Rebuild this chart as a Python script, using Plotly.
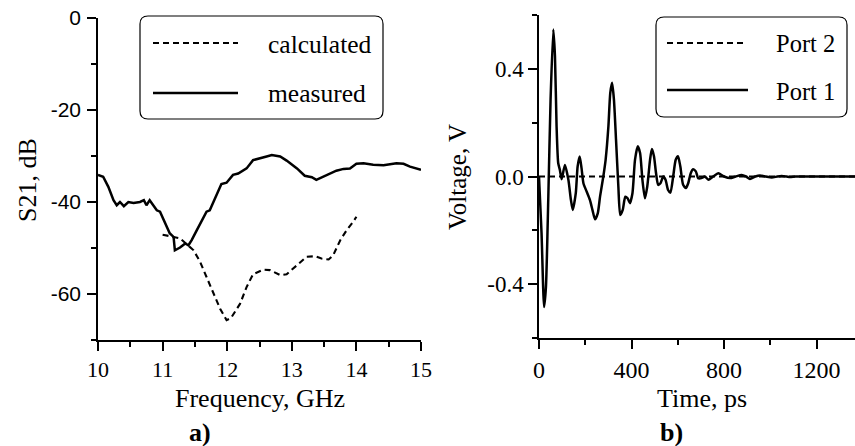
import plotly.graph_objects as go

# ---------------- data ----------------
meas_f = [10.0, 10.08, 10.16, 10.24, 10.29, 10.34, 10.40, 10.47, 10.55, 10.65, 10.71, 10.75, 10.80,
          10.91, 10.96, 11.06, 11.11, 11.17, 11.19, 11.27, 11.35, 11.40, 11.45, 11.53, 11.60, 11.68,
          11.73, 11.84, 11.91, 11.99, 12.09, 12.17, 12.30, 12.40, 12.51, 12.61, 12.69, 12.82, 12.92,
          13.08, 13.20, 13.31, 13.38, 13.46, 13.57, 13.69, 13.80, 13.90, 14.00, 14.11, 14.26, 14.42,
          14.52, 14.62, 14.73, 14.83, 15.0]
meas_db = [-34.1, -34.5, -36.7, -39.6, -40.7, -40.0, -40.9, -40.0, -40.2, -40.0, -39.6, -40.7, -39.6,
           -41.8, -42.1, -45.4, -46.8, -47.6, -50.5, -49.9, -49.0, -49.4, -48.3, -46.1, -44.3, -42.1,
           -41.8, -38.5, -36.1, -35.8, -34.1, -33.8, -32.7, -30.9, -30.4, -30.1, -29.8, -30.1, -31.0,
           -32.7, -34.3, -34.6, -35.2, -34.7, -34.1, -33.2, -32.8, -32.7, -31.7, -31.6, -31.9, -32.0,
           -31.8, -31.6, -31.7, -32.3, -33.0]

calc_f = [11.0, 11.27, 11.48, 11.58, 11.68, 11.79, 11.89, 11.99, 12.06, 12.20, 12.30, 12.40, 12.56,
          12.66, 12.82, 12.92, 13.02, 13.13, 13.23, 13.36, 13.46, 13.57, 13.64, 13.75, 13.85, 13.95, 14.0]
calc_db = [-47.1, -47.9, -50.5, -53.0, -56.3, -59.9, -63.2, -65.7, -65.2, -62.1, -58.5, -55.7, -54.7,
           -54.8, -55.9, -55.7, -54.5, -53.0, -51.9, -51.8, -52.3, -52.5, -51.6, -48.3, -46.1, -44.3, -43.2]

port1_t = [0, 11, 22, 30, 40, 50, 62, 69, 76, 83, 90, 98, 112, 127, 138, 146, 159, 167, 176, 184,
           192, 206, 220, 231, 242, 254, 264, 278, 288, 300, 308, 316, 324, 333, 343, 351, 362, 373,
           383, 393, 404, 415, 427, 437, 447, 458, 468, 480, 488, 497, 506, 515, 525, 537, 547, 558,
           568, 580, 591, 601, 611, 623, 635, 645, 656, 666, 678, 688, 702, 717, 732, 753, 775, 800,
           826, 850, 876, 895, 912, 935, 955, 980, 1006, 1030, 1049, 1070, 1085, 1110, 1200, 1300, 1366]
port1_v = [0.0, -0.21, -0.485, -0.41, -0.087, 0.285, 0.546, 0.447, 0.186, 0.05, 0.025, -0.01, 0.043,
           -0.012, -0.087, -0.124, -0.062, 0.037, 0.074, 0.03, -0.025, -0.056, -0.087, -0.124, -0.159,
           -0.137, -0.074, 0.0, 0.062, 0.186, 0.31, 0.348, 0.285, 0.136, -0.037, -0.143, -0.124, -0.075,
           -0.081, -0.099, -0.062, 0.062, 0.112, 0.087, -0.012, -0.081, -0.037, 0.062, 0.102, 0.075,
           0.012, -0.031, -0.025, 0.0, -0.012, -0.05, -0.06, 0.0, 0.062, 0.075, 0.037, -0.031, -0.043,
           -0.025, 0.012, 0.027, 0.019, -0.006, -0.006, 0.0, -0.012, 0.0, 0.012, 0.0, -0.006, 0.0,
           0.006, 0.0, -0.009, 0.0, 0.004, 0.0, -0.004, 0.0, 0.002, 0.0, -0.002, 0.0, 0.0, 0.0, 0.0]

port2_t = [0, 200, 400, 600, 800, 1000, 1200, 1366]
port2_v = [0.0, 0.0, 0.0, 0.0, 0.0, 0.0, 0.0, 0.0]

freq_ticks = [10, 11, 12, 13, 14, 15]
freq_minor = [10.5, 11.5, 12.5, 13.5, 14.5]
db_ticks = [0, -20, -40, -60]
db_labels = ["0", "-20", "-40", "-60"]
db_minor = [-10, -30, -50, -70]
time_ticks = [0, 400, 800, 1200]
time_minor = [200, 600, 1000]
volt_ticks = [0.4, 0.0, -0.4]
volt_labels = ["0.4", "0.0", "-0.4"]
volt_minor = [0.6, 0.2, -0.2, -0.6]

# ---------------- helpers ----------------
W, H = 855, 446
SERIF = "Liberation Serif"


def px(x):
    return x / W


def py(y):
    return 1 - y / H


def rounded_rect(x0, y0, x1, y1, r):
    X0, X1 = px(x0), px(x1)
    Y0, Y1 = py(y0), py(y1)
    rx, ry = r / W, r / H
    return (f"M {X0+rx},{Y0} L {X1-rx},{Y0} Q {X1},{Y0} {X1},{Y0-ry} "
            f"L {X1},{Y1+ry} Q {X1},{Y1} {X1-rx},{Y1} L {X0+rx},{Y1} "
            f"Q {X0},{Y1} {X0},{Y1+ry} L {X0},{Y0-ry} Q {X0},{Y0} {X0+rx},{Y0} Z")


DASH = "6px,4px"
SOLID_W = 2.5
DASH_W = 2.1

fig = go.Figure()
fig.add_trace(go.Scatter(x=calc_f, y=calc_db, mode="lines", name="calculated",
                         line=dict(color="black", width=DASH_W, dash=DASH), xaxis="x", yaxis="y"))
fig.add_trace(go.Scatter(x=meas_f, y=meas_db, mode="lines", name="measured",
                         line=dict(color="black", width=SOLID_W), xaxis="x", yaxis="y"))
fig.add_trace(go.Scatter(x=port1_t, y=port1_v, mode="lines", name="Port 1",
                         line=dict(color="black", width=SOLID_W, shape="spline", smoothing=0.6),
                         xaxis="x2", yaxis="y2"))
fig.add_trace(go.Scatter(x=port2_t, y=port2_v, mode="lines", name="Port 2",
                         line=dict(color="black", width=DASH_W, dash=DASH), xaxis="x2", yaxis="y2"))

axis_common = dict(showline=True, linecolor="black", linewidth=1.5, showgrid=False, zeroline=False,
                   ticks="outside", ticklen=9, tickwidth=1.5, tickcolor="black", fixedrange=True,
                   automargin=False)
minor_common = dict(ticks="outside", ticklen=5, tickwidth=1.5, tickcolor="black", showgrid=False)

fig.update_layout(
    width=W, height=H, margin=dict(l=0, r=0, t=0, b=0, autoexpand=False),
    paper_bgcolor="white", plot_bgcolor="white", showlegend=False,
    xaxis=dict(domain=[px(98), px(421)], range=[10, 15], anchor="y",
               tickmode="array", tickvals=freq_ticks, ticktext=[str(v) for v in freq_ticks],
               minor=dict(tickvals=freq_minor, **minor_common),
               tickfont=dict(family=SERIF, size=22, color="black"), **axis_common),
    yaxis=dict(domain=[py(340), py(18)], range=[-70, 0], anchor="x",
               tickmode="array", tickvals=db_ticks, ticktext=db_labels,
               minor=dict(tickvals=db_minor, **minor_common), ticklabelstandoff=2,
               tickfont=dict(family="Liberation Sans", size=21, color="black"), **axis_common),
    xaxis2=dict(domain=[px(539), 1.0], range=[0, 1366], anchor="y2",
                tickmode="array", tickvals=time_ticks, ticktext=[str(v) for v in time_ticks],
                minor=dict(tickvals=time_minor, **minor_common),
                tickfont=dict(family=SERIF, size=24, color="black"), **axis_common),
    yaxis2=dict(domain=[py(338), py(15)], range=[-0.6, 0.6], anchor="x2",
                tickmode="array", tickvals=volt_ticks, ticktext=volt_labels,
                minor=dict(tickvals=volt_minor, **minor_common),
                tickfont=dict(family=SERIF, size=23, color="black"), **axis_common),
)

# legend boxes and samples (drawn manually to match the rounded frames)
shapes = [
    dict(type="path", path=rounded_rect(140, 16, 383, 119, 8), xref="paper", yref="paper",
         line=dict(color="black", width=1.2), fillcolor="white", layer="above"),
    dict(type="path", path=rounded_rect(656, 17, 847, 117, 8), xref="paper", yref="paper",
         line=dict(color="black", width=1.2), fillcolor="white", layer="above"),
    dict(type="line", xref="paper", yref="paper", x0=px(153), x1=px(238), y0=py(43), y1=py(43),
         line=dict(color="black", width=DASH_W, dash=DASH), layer="above"),
    dict(type="line", xref="paper", yref="paper", x0=px(153), x1=px(238), y0=py(93), y1=py(93),
         line=dict(color="black", width=SOLID_W), layer="above"),
    dict(type="line", xref="paper", yref="paper", x0=px(667), x1=px(747), y0=py(43), y1=py(43),
         line=dict(color="black", width=DASH_W, dash=DASH), layer="above"),
    dict(type="line", xref="paper", yref="paper", x0=px(667), x1=px(748), y0=py(90), y1=py(90),
         line=dict(color="black", width=SOLID_W), layer="above"),
]
fig.update_layout(shapes=shapes)


def ann(text, x, y, size, xanchor="center", angle=0, bold=False):
    t = f"<b>{text}</b>" if bold else text
    return dict(text=t, x=px(x), y=py(y), xref="paper", yref="paper", showarrow=False,
                xanchor=xanchor, yanchor="middle", textangle=angle,
                font=dict(family=SERIF, size=size, color="black"))


annotations = [
    ann("S21, dB", 27, 180, 26, angle=-90),
    ann("Frequency, GHz", 260, 398, 26),
    ann("a)", 200, 432, 26, bold=True),
    ann("Voltage, V", 458, 177, 25, angle=-90),
    ann("Time, ps", 702, 398, 26),
    ann("b)", 671, 432, 26, bold=True),
    ann("calculated", 266, 45, 25.5, xanchor="left"),
    ann("measured", 266, 94, 25.5, xanchor="left"),
    ann("Port 2", 774, 44, 24.5, xanchor="left"),
    ann("Port 1", 774, 91, 24.5, xanchor="left"),
]
fig.update_layout(annotations=annotations)

fig.write_html("out.html")
